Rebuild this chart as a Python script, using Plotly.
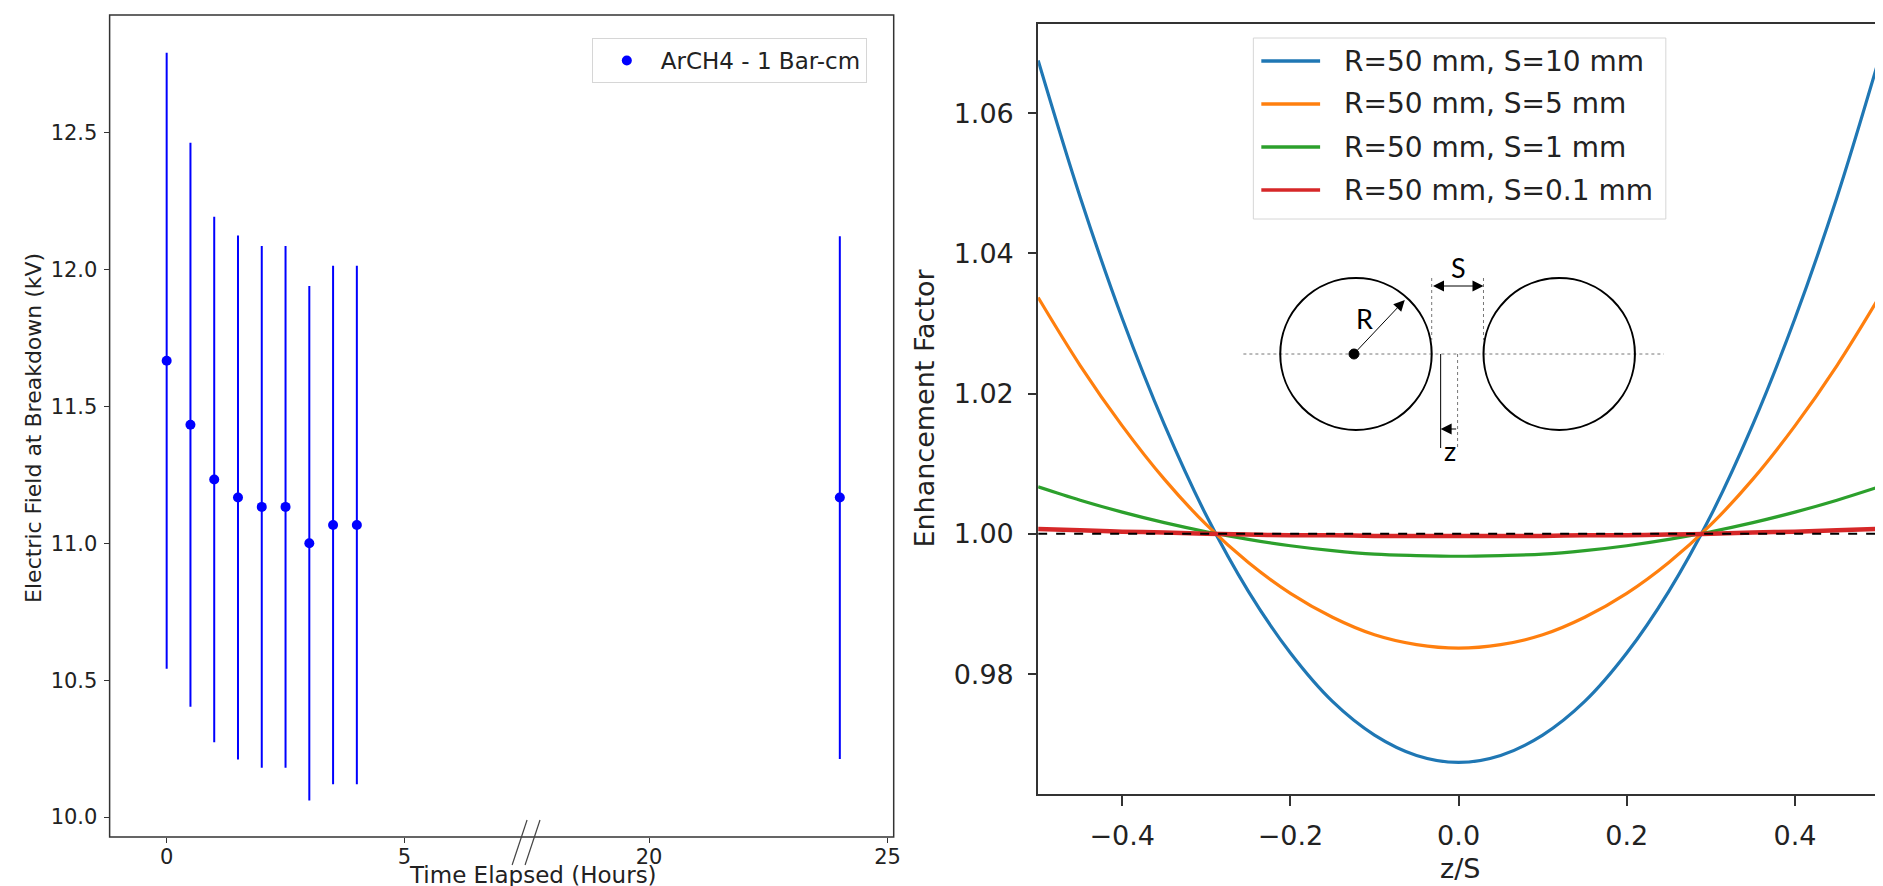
import plotly.graph_objects as go

W, H = 1883, 886

# ---- left panel: breakdown field vs time ----
hours = [0, 0.5, 1, 1.5, 2, 2.5, 3, 3.5, 4, 24]
field_kv = [11.667, 11.433, 11.233, 11.167, 11.133, 11.133, 11.000, 11.067, 11.067, 11.167]
field_err = [1.125, 1.030, 0.960, 0.957, 0.953, 0.953, 0.940, 0.947, 0.947, 0.955]

# ---- right panel: enhancement factor vs z/S ----
z_over_s = [-0.5, -0.45, -0.4, -0.35, -0.3, -0.25, -0.2, -0.15, -0.1, -0.05, 0.0,
            0.05, 0.1, 0.15, 0.2, 0.25, 0.3, 0.35, 0.4, 0.45, 0.5]
ef_s10 = [1.0675, 1.0480, 1.0307, 1.0156, 1.0026, 0.9918, 0.9830, 0.9761, 0.9713, 0.9684, 0.9674,
          0.9684, 0.9713, 0.9761, 0.9830, 0.9918, 1.0026, 1.0156, 1.0307, 1.0480, 1.0677]
ef_s5 = [1.0337, 1.0240, 1.0154, 1.0078, 1.0013, 0.9959, 0.9915, 0.9881, 0.9856, 0.9842, 0.9837,
         0.9842, 0.9856, 0.9881, 0.9915, 0.9959, 1.0013, 1.0078, 1.0154, 1.0240, 1.0337]
ef_s1 = [1.0067, 1.0048, 1.0031, 1.0016, 1.0003, 0.9992, 0.9983, 0.9976, 0.9971, 0.9969, 0.9968,
         0.9969, 0.9971, 0.9976, 0.9983, 0.9992, 1.0003, 1.0016, 1.0031, 1.0048, 1.0067]
ef_s01 = [1.0007, 1.0005, 1.0003, 1.0002, 1.0000, 0.9999, 0.9998, 0.9998, 0.9997, 0.9997, 0.9997,
          0.9997, 0.9997, 0.9998, 0.9998, 0.9999, 1.0000, 1.0002, 1.0003, 1.0005, 1.0007]
curve_labels = ["R=50 mm, S=10 mm", "R=50 mm, S=5 mm", "R=50 mm, S=1 mm", "R=50 mm, S=0.1 mm"]
curve_colors = ["#1f77b4", "#ff7f0e", "#2ca02c", "#d62728"]

FONT = "DejaVu Sans"


def px(x):
    return x / W


def py(y):
    return 1 - y / H


fig = go.Figure()

# left panel, split into the two segments of the broken axis
near = [i for i, h in enumerate(hours) if h < 10]
far = [i for i, h in enumerate(hours) if h >= 10]
for idx, xa, show in [(near, "x", True), (far, "x2", False)]:
    fig.add_trace(go.Scatter(
        x=[hours[i] for i in idx],
        y=[field_kv[i] for i in idx],
        error_y=dict(type="data", array=[field_err[i] for i in idx],
                     thickness=2, width=0, color="#0000ff"),
        mode="markers",
        marker=dict(color="#0000ff", size=10),
        name="ArCH4 - 1 Bar-cm",
        xaxis=xa, yaxis="y",
        showlegend=show,
    ))

# right panel curves
for vals, lab, col in zip([ef_s10, ef_s5, ef_s1, ef_s01], curve_labels, curve_colors):
    fig.add_trace(go.Scatter(
        x=z_over_s, y=vals, mode="lines", name=lab,
        line=dict(color=col, width=4.5 if col == "#d62728" else 3.2, shape="spline"),
        xaxis="x3", yaxis="y3", showlegend=False,
    ))
fig.add_trace(go.Scatter(
    x=[z_over_s[0], z_over_s[-1]], y=[1.0, 1.0], mode="lines",
    line=dict(color="black", width=2, dash="dash"),
    xaxis="x3", yaxis="y3", showlegend=False,
))

pp = dict(xref="paper", yref="paper")
shapes = [
    # frame of the left (broken) panel
    dict(type="rect", x0=px(102), x1=px(889), y0=py(829), y1=py(7),
         line=dict(color="#333", width=1.5), **pp),
    # break marks
    dict(type="line", x0=px(506), y0=py(857), x1=px(521), y1=py(812),
         line=dict(color="#444", width=1.2), **pp),
    dict(type="line", x0=px(519), y0=py(857), x1=px(534), y1=py(812),
         line=dict(color="#444", width=1.2), **pp),
]

# inset sketch of the two electrodes
shapes += [
    dict(type="line", x0=px(1240), x1=px(1662), y0=py(346), y1=py(346),
         line=dict(color="#777", width=1, dash="dot"), **pp),
    dict(type="circle", x0=px(1277), x1=px(1429), y0=py(422), y1=py(270),
         line=dict(color="black", width=2), **pp),
    dict(type="circle", x0=px(1481), x1=px(1633), y0=py(422), y1=py(270),
         line=dict(color="black", width=2), **pp),
    dict(type="circle", x0=px(1346), x1=px(1356), y0=py(351), y1=py(341),
         fillcolor="black", line=dict(color="black", width=1), **pp),
    dict(type="line", x0=px(1429), x1=px(1429), y0=py(270), y1=py(332),
         line=dict(color="#777", width=1, dash="dot"), **pp),
    dict(type="line", x0=px(1481), x1=px(1481), y0=py(270), y1=py(332),
         line=dict(color="#777", width=1, dash="dot"), **pp),
    dict(type="line", x0=px(1438), x1=px(1438), y0=py(346), y1=py(440),
         line=dict(color="black", width=1), **pp),
    dict(type="line", x0=px(1455), x1=px(1455), y0=py(346), y1=py(440),
         line=dict(color="#777", width=1, dash="dot"), **pp),
]


def label(text, x, y, size, angle=0, family=FONT, color="#222", anchor="center"):
    return dict(text=text, x=px(x), y=py(y), xref="paper", yref="paper",
                xanchor=anchor, yanchor="middle", showarrow=False, textangle=angle,
                font=dict(family=family, size=size, color=color))


def arrow(head, tail, both=False):
    d = dict(text="", x=px(head[0]), y=py(head[1]), xref="paper", yref="paper",
             ax=tail[0] - head[0], ay=tail[1] - head[1], showarrow=True,
             arrowhead=2, arrowsize=2.2, arrowwidth=1, arrowcolor="black")
    if both:
        d.update(arrowside="end+start", startarrowhead=2, startarrowsize=2.2)
    return d


annotations = [
    label("Electric Field at Breakdown (kV)", 25, 420, 22, -90),
    label("Time Elapsed (Hours)", 527, 867, 23),
    label("Enhancement Factor", 920, 400, 27, -90),
    label("z/S", 1457, 860, 27),
    label("R", 1362, 310, 27, family="Lato", color="black"),
    label("S", 1456, 259, 27, family="Lato", color="black"),
    label("z", 1447, 442, 27, family="Lato", color="black"),
    arrow((1402, 292), (1351, 346)),
    arrow((1481, 278), (1429, 278), both=True),
    arrow((1438, 421), (1455, 421)),
]

# legend box of the right panel
shapes.append(dict(type="rect", x0=px(1250), x1=px(1664), y0=py(211), y1=py(30),
                   fillcolor="white", line=dict(color="#d6d6d6", width=1), **pp))
for k, (lab, col) in enumerate(zip(curve_labels, curve_colors)):
    row = 53 + 43 * k
    shapes.append(dict(type="line", x0=px(1258), x1=px(1317), y0=py(row), y1=py(row),
                       line=dict(color=col, width=3.5), **pp))
    annotations.append(label(lab, 1339, row, 28, anchor="left"))

left_tick = dict(ticks="outside", ticklen=5, tickcolor="#333", showgrid=False, zeroline=False,
                 showline=False, tickfont=dict(family=FONT, size=21, color="#222"))
right_tick = dict(ticks="outside", tickwidth=1.5, tickcolor="#333", showgrid=False,
                  zeroline=False, showline=True, mirror=True, linecolor="#333", linewidth=2,
                  tickfont=dict(family=FONT, size=27, color="#222"))

fig.update_layout(
    width=W, height=H,
    margin=dict(l=0, r=0, t=0, b=0),
    paper_bgcolor="white", plot_bgcolor="white",
    font=dict(family=FONT, color="#222"),
    xaxis=dict(domain=[px(102), px(521)], range=[-1.2, 7.58], tickvals=[0, 5],
               anchor="y", ticklabelstandoff=-4, **left_tick),
    xaxis2=dict(domain=[px(521), px(889)], range=[17.44, 25.13], tickvals=[20, 25],
                anchor="y", ticklabelstandoff=-4, **left_tick),
    yaxis=dict(domain=[py(829), py(7)], range=[9.927, 12.93],
               tickvals=[10.0, 10.5, 11.0, 11.5, 12.0, 12.5], tickformat=".1f",
               anchor="x", ticklabelstandoff=2, **left_tick),
    xaxis3=dict(domain=[px(1034), px(1878)], range=[-0.5, 0.5],
                tickvals=[-0.4, -0.2, 0.0, 0.2, 0.4], tickformat=".1f",
                anchor="y3", ticklen=10, ticklabelstandoff=7, **right_tick),
    yaxis3=dict(domain=[py(786), py(16)], range=[0.9629, 1.0727],
                tickvals=[0.98, 1.00, 1.02, 1.04, 1.06], tickformat=".2f",
                anchor="x3", ticklen=8, ticklabelstandoff=9, **right_tick),
    legend=dict(x=px(586), y=py(30), xanchor="left", yanchor="top",
                font=dict(family=FONT, size=23, color="#222"),
                bgcolor="white", bordercolor="#d6d6d6", borderwidth=1, itemwidth=58),
    shapes=shapes,
    annotations=annotations,
)

fig.write_html("out.html")
